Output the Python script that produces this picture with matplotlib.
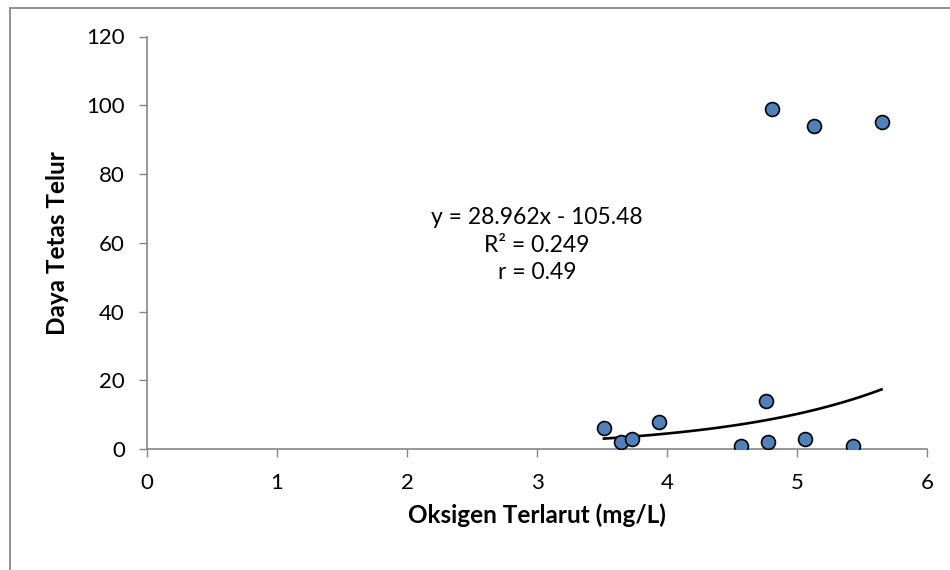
import numpy as np
import matplotlib
matplotlib.use("Agg")
import matplotlib.pyplot as plt
from matplotlib.lines import Line2D

plt.rcParams['font.family'] = ['Lato', 'DejaVu Sans']

# data
oksigen = [3.515, 3.645, 3.73, 3.94, 4.57, 4.76, 4.78, 4.81, 5.06, 5.13, 5.43, 5.65]
daya_tetas = [6, 2, 3, 8, 1, 14, 2, 99, 3, 94, 1, 95]
x_ticks = [0, 1, 2, 3, 4, 5, 6]
y_ticks = [0, 20, 40, 60, 80, 100, 120]
label_eq = "y = 28.962x - 105.48\nR² = 0.249\nr = 0.49"

# exponential trendline (fit on log of y, like Excel does)
b, ln_a = np.polyfit(oksigen, np.log(daya_tetas), 1)
x_fit = np.linspace(min(oksigen), max(oksigen), 100)
y_fit = np.exp(ln_a) * np.exp(b * x_fit)

fig = plt.figure(figsize=(9.5, 5.7), dpi=100)
ax = fig.add_axes([147 / 950, 1 - 449 / 570, 780 / 950, 412.5 / 570])

ax.plot(x_fit, y_fit, color='black', linewidth=1.9, zorder=2)
ax.plot(oksigen, daya_tetas, 'o', markersize=10, markerfacecolor='#4F81BD',
        markeredgecolor='black', markeredgewidth=1.2, zorder=3)

ax.text(3.0, 59.3, label_eq, ha='center', va='center', fontsize=16.5, linespacing=1.4)

ax.set_xlim(0, 6)
ax.set_ylim(0, 120)
ax.set_xticks(x_ticks)
ax.set_yticks(y_ticks)
ax.tick_params(labelsize=16, length=6, width=1, color='#868686', direction='out')
ax.tick_params(axis='y', pad=10)
ax.tick_params(axis='x', pad=11)

for s in ['top', 'right']:
    ax.spines[s].set_visible(False)
for s in ['left', 'bottom']:
    ax.spines[s].set_color('#868686')
    ax.spines[s].set_linewidth(1.2)

ax.set_xlabel('Oksigen Terlarut (mg/L)', fontsize=17.5, fontweight='bold', labelpad=8)
ax.set_ylabel('Daya Tetas Telur', fontsize=17.5, fontweight='bold', labelpad=12)

# outer chart frame (cut off at right and bottom)
fig.add_artist(Line2D([9.5 / 950, 9.5 / 950], [0, 1 - 7.5 / 570], color='#898989', linewidth=1.3))
fig.add_artist(Line2D([9.5 / 950, 1], [1 - 7.5 / 570, 1 - 7.5 / 570], color='#898989', linewidth=1.3))

fig.savefig('out.png', dpi=100)
